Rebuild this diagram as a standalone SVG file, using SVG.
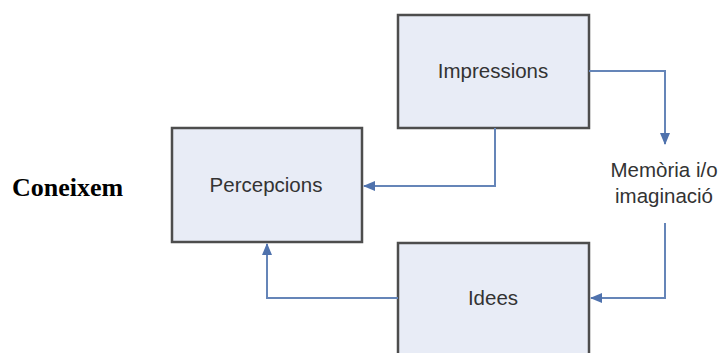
<svg xmlns="http://www.w3.org/2000/svg" width="720" height="353" viewBox="0 0 720 353">
<defs>
<style>
.box{fill:#e8ecf6;stroke:#4d4d4d;stroke-width:2.5}
.lbl{font-family:"Liberation Sans",Arial,sans-serif;font-size:20.5px;fill:#333;text-anchor:middle}
.con{fill:none;stroke:#6585b8;stroke-width:2}
</style>
<marker id="ah" viewBox="0 0 12 10" refX="11" refY="5" markerWidth="12" markerHeight="10" markerUnits="userSpaceOnUse" orient="auto">
<path d="M0,0 L12,5 L0,10 z" fill="#4f72ad"/>
</marker>
</defs>
<rect width="720" height="353" fill="#fff"/>
<text x="12" y="196" font-family="Liberation Serif,Times New Roman,serif" font-weight="bold" font-size="26" fill="#000">Coneixem</text>
<g id="impressions">
<rect class="box" x="398" y="15" width="191" height="113"/>
<text class="lbl" x="493" y="78">Impressions</text>
</g>
<g id="percepcions">
<rect class="box" x="172" y="128" width="190" height="114"/>
<text class="lbl" x="266" y="192">Percepcions</text>
</g>
<g id="idees">
<rect class="box" x="398" y="243" width="191" height="120"/>
<text class="lbl" x="493" y="305">Idees</text>
</g>
<g id="memoria">
<text class="lbl" x="664" y="177">Memòria i/o</text>
<text class="lbl" x="664" y="203">imaginació</text>
</g>
<g id="connectors">
<path class="con" d="M495,128 V186 H364" marker-end="url(#ah)"/>
<path class="con" d="M589,71 H665 V144" marker-end="url(#ah)"/>
<path class="con" d="M665,223 V298 H591" marker-end="url(#ah)"/>
<path class="con" d="M398,298 H267 V244" marker-end="url(#ah)"/>
</g>
</svg>
